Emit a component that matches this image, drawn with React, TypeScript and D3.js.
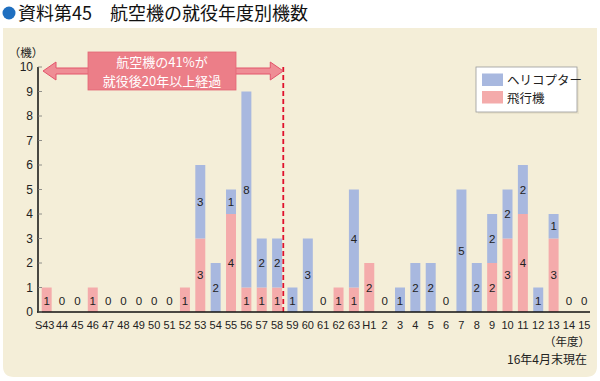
import React from "react";
import * as d3 from "d3";

const categories = [
  "S43","44","45","46","47","48","49","50","51","52","53","54","55","56","57","58","59","60","61","62","63",
  "H1","2","3","4","5","6","7","8","9","10","11","12","13","14","15",
];
const planeValues = [1,0,0,1,0,0,0,0,0,1,3,0,4,1,1,1,0,0,0,1,1,2,0,0,0,0,0,0,0,2,3,4,0,3,0,0];
const heliValues  = [0,0,0,0,0,0,0,0,0,0,3,2,1,8,2,2,1,3,0,0,4,0,0,1,2,2,0,5,2,2,2,2,1,1,0,0];
const yTicks = [0,1,2,3,4,5,6,7,8,9,10];
const seriesNames = ["ヘリコプター", "飛行機"];

const W = 600, H = 381;
const FONT = "'Liberation Sans', 'Noto Sans CJK JP', sans-serif";
const JFONT = "'Noto Sans CJK JP', sans-serif";
const BLUE = "#a8b8df";
const PINK = "#f4abab";
const BEIGE = "#f4eed8";

export default function App() {
  const x = d3.scaleBand<string>().domain(categories).range([39, 592]).paddingInner(0.35).paddingOuter(0.175);
  const y = d3.scaleLinear().domain([0, 10]).range([312, 67]);
  const bw = x.bandwidth();
  const step = x.step();
  const splitX = (x(categories[15]) as number) + bw + (step - bw) / 2 - 1.5;

  const labels: { cx: number; cy: number; t: string }[] = [];
  categories.forEach((c, i) => {
    const cx = (x(c) as number) + bw / 2;
    const p = planeValues[i], h = heliValues[i];
    if (p === 0 && h === 0) {
      labels.push({ cx, cy: y(0.45), t: "0" });
      return;
    }
    if (p > 0) labels.push({ cx, cy: y(p / 2 - (p === 1 ? 0.05 : 0)), t: String(p) });
    if (h > 0) labels.push({ cx, cy: y(p + h / 2 - (h === 1 && p === 0 ? 0.05 : 0)), t: String(h) });
  });

  const arrowY = 71;
  const ax0 = 43, ax1 = splitX;
  const arrowPath = [
    [ax0, arrowY],
    [ax0 + 13, arrowY - 9],
    [ax0 + 13, arrowY - 3],
    [ax1 - 13, arrowY - 3],
    [ax1 - 13, arrowY - 9],
    [ax1, arrowY],
    [ax1 - 13, arrowY + 9],
    [ax1 - 13, arrowY + 3],
    [ax0 + 13, arrowY + 3],
    [ax0 + 13, arrowY + 9],
  ];
  const arrowD = (d3.line()(arrowPath as [number, number][]) || "") + "Z";

  return (
    <svg width={W} height={H} style={{ position: "absolute", left: 0, top: 0, background: "#fff" }}>
      {/* Title */}
      <circle cx={9} cy={13} r={6.5} fill="#1f6fc0" />
      <text x={18} y={19.5} fontFamily={JFONT} fontSize={18} fill="#111">資料第45　航空機の就役年度別機数</text>

      {/* panel */}
      <path d={`M3,${28} H597 V${366} Q597,377 586,377 H14 Q3,377 3,366 Z`} fill={BEIGE} />

      {/* y axis label */}
      <text x={26} y={57} textAnchor="middle" fontFamily={JFONT} fontSize={11.5} fill="#222">（機）</text>

      {/* dashed line */}
      <line x1={splitX} x2={splitX} y1={y(10)} y2={y(0)} stroke="#e0102c" strokeWidth={1.8} strokeDasharray="5,3" />

      {/* bars */}
      {categories.map((c, i) => {
        const x0 = x(c) as number;
        const p = planeValues[i], h = heliValues[i];
        return (
          <g key={c}>
            {p > 0 && <rect x={x0} width={bw} y={y(p)} height={y(0) - y(p)} fill={PINK} />}
            {h > 0 && <rect x={x0} width={bw} y={y(p + h)} height={y(p) - y(p + h)} fill={BLUE} />}
          </g>
        );
      })}

      {labels.map((l, i) => (
        <text key={i} x={l.cx} y={l.cy} dy="0.36em" textAnchor="middle" fontFamily={FONT} fontSize={11.5} fill="#222">{l.t}</text>
      ))}

      {/* axes */}
      <line x1={38} x2={38} y1={y(10)} y2={y(0) + 0.75} stroke="#111" strokeWidth={1.5} />
      <line x1={37.25} x2={590} y1={y(0)} y2={y(0)} stroke="#111" strokeWidth={1.5} />
      {yTicks.map((t) => (
        <g key={t}>
          <line x1={38} x2={42} y1={y(t)} y2={y(t)} stroke="#777" strokeWidth={0.8} />
          <text x={33} y={y(t)} dy="0.36em" textAnchor="end" fontFamily={FONT} fontSize={12} fill="#222">{t}</text>
        </g>
      ))}
      {categories.map((c) => (
        <text key={c} x={(x(c) as number) + bw / 2 - (c === "S43" ? 2 : 0)} y={325} dy="0.36em" textAnchor="middle" fontFamily={FONT} fontSize={11} fill="#222">{c}</text>
      ))}
      <text x={590} y={342} dy="0.36em" textAnchor="end" fontFamily={JFONT} fontSize={11.5} fill="#222">（年度）</text>
      <text x={587} y={360} dy="0.36em" textAnchor="end" fontFamily={JFONT} fontSize={12} fill="#222">16年4月末現在</text>

      {/* annotation */}
      <path d={arrowD} fill="#ef8d95" stroke="#e2546b" strokeWidth={1} />
      <rect x={88} y={52} width={148} height={38} fill="#ec7e88" stroke="#e36775" strokeWidth={0.8} />
      <text x={162} y={62.5} dy="0.36em" textAnchor="middle" fontFamily={JFONT} fontSize={13} fill="#fff">航空機の41%が</text>
      <text x={162} y={81} dy="0.36em" textAnchor="middle" fontFamily={JFONT} fontSize={13} fill="#fff">就役後20年以上経過</text>

      {/* legend */}
      <rect x={478} y={69} width={101} height={45} fill="#e7e0c9" opacity={0.8} />
      <rect x={476} y={67} width={101} height={45} fill="#fff" stroke="#999" strokeWidth={0.8} />
      {[BLUE, PINK].map((col, i) => (
        <g key={i}>
          <rect x={482} y={73.5 + i * 17.5} width={21} height={12.5} fill={col} />
          <text x={507} y={80 + i * 18.5} dy="0.36em" fontFamily={JFONT} fontSize={12.5} fill="#222">{seriesNames[i]}</text>
        </g>
      ))}
    </svg>
  );
}
